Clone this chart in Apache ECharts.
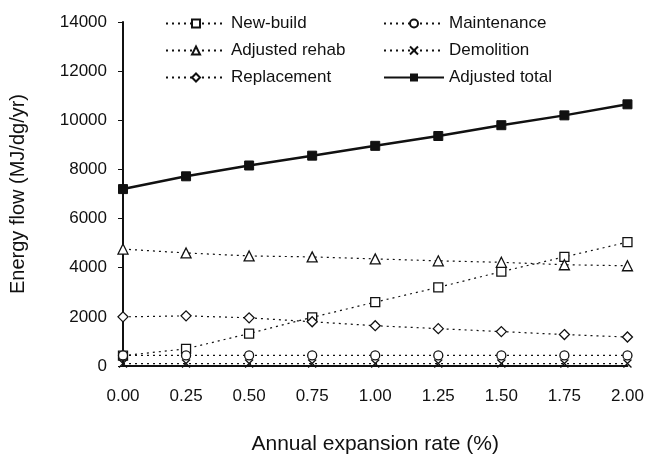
<!DOCTYPE html>
<html>
<head>
<meta charset="utf-8">
<script src="https://cdn.jsdelivr.net/npm/echarts@6/dist/echarts.min.js"></script>
<style>html,body{margin:0;padding:0;background:#fff}#c{width:647px;height:461px}</style>
</head>
<body>
<div id="c"></div>
<script>
const rates = [0, 0.25, 0.5, 0.75, 1.0, 1.25, 1.5, 1.75, 2.0];
const newBuild = [420, 700, 1320, 1980, 2600, 3200, 3840, 4440, 5040];
const maintenance = [430, 430, 430, 430, 430, 430, 430, 430, 430];
const adjustedRehab = [4760, 4600, 4480, 4440, 4360, 4280, 4220, 4120, 4080];
const demolition = [100, 100, 100, 100, 100, 100, 100, 100, 100];
const replacement = [2000, 2040, 1960, 1800, 1640, 1520, 1400, 1280, 1180];
const adjustedTotal = [7200, 7720, 8160, 8560, 8960, 9360, 9800, 10200, 10650];
const yTicks = [0, 2000, 4000, 6000, 8000, 10000, 12000, 14000];

const ink = '#111';
const font = 'Liberation Sans, Arial, sans-serif';
const crossPath = 'path://M0,0L10,10M10,0L0,10';

function pairs(vals){ return rates.map((r,i)=>[r, vals[i]]); }
function dotted(name, vals, symbol, size){
  return {
    name, type:'line', data: pairs(vals), symbol, symbolSize: size,
    lineStyle:{color:ink, width:1.2, type:[2,4]},
    itemStyle:{color:'#fff', borderColor:ink, borderWidth:1.3},
    emphasis:{disabled:true}, z:3
  };
}
const series = [
  dotted('New-build', newBuild, 'rect', 9),
  dotted('Maintenance', maintenance, 'circle', 9),
  dotted('Adjusted rehab', adjustedRehab, 'triangle', 10),
  dotted('Demolition', demolition, crossPath, 8),
  dotted('Replacement', replacement, 'diamond', 10),
  {
    name:'Adjusted total', type:'line', data: pairs(adjustedTotal), symbol:'rect', symbolSize:9,
    lineStyle:{color:ink, width:2.5}, itemStyle:{color:ink, borderColor:ink},
    emphasis:{disabled:true}, z:4
  }
];

const legendCommon = {
  orient:'vertical', itemWidth:60, itemHeight:10, itemGap:10,
  textStyle:{color:ink, fontFamily:font, fontSize:17},
  selectedMode:false, inactiveColor:ink
};

const chart = echarts.init(document.getElementById('c'), null, {renderer:'canvas'});
chart.setOption({
  backgroundColor:'#fff',
  animation:false,
  grid:{left:123, right:19, top:22, bottom:95},
  legend:[
    Object.assign({left:160, top:10, data:['New-build','Adjusted rehab','Replacement']}, legendCommon),
    Object.assign({left:378, top:10, data:['Maintenance','Demolition','Adjusted total']}, legendCommon)
  ],
  xAxis:{
    type:'value', min:0, max:2, interval:0.25,
    name:'Annual expansion rate (%)', nameLocation:'middle', nameGap:68,
    nameTextStyle:{color:ink, fontFamily:font, fontSize:21},
    axisLine:{show:true, lineStyle:{color:ink, width:2}},
    axisTick:{show:false}, splitLine:{show:false},
    axisLabel:{color:ink, fontFamily:font, fontSize:17, margin:22, formatter:v=>v.toFixed(2)}
  },
  yAxis:{
    type:'value', min:yTicks[0], max:yTicks[yTicks.length-1], interval:2000,
    name:'Energy flow (MJ/dg/yr)', nameLocation:'middle', nameGap:95,
    nameTextStyle:{color:ink, fontFamily:font, fontSize:20},
    axisLine:{show:true, lineStyle:{color:ink, width:2}},
    axisTick:{show:true, length:5, lineStyle:{color:ink, width:1}},
    splitLine:{show:false},
    axisLabel:{color:ink, fontFamily:font, fontSize:17, margin:16, formatter:v=>String(v)}
  },
  series
});
</script>
</body>
</html>
